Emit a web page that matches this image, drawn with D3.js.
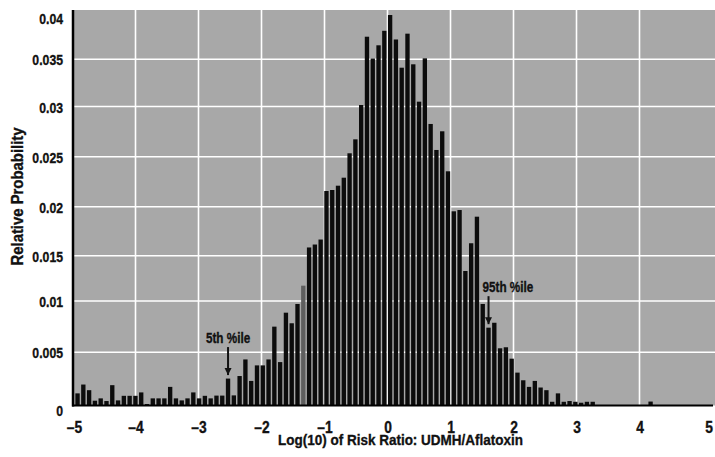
<!DOCTYPE html>
<html><head><meta charset="utf-8">
<script src="https://cdn.jsdelivr.net/npm/d3@7"></script>
<style>
html,body{margin:0;padding:0;background:#fff;}
svg{display:block;}
text{font-family:"Liberation Sans",Arial,"DejaVu Sans",sans-serif;font-weight:bold;fill:#111;stroke:#111;stroke-width:0.35px;}
</style></head><body>
<svg id="chart" width="715" height="457"></svg>
<script>
// Relative probability per bin (log10 of risk ratio UDMH/Aflatoxin)
const relProb = [
  0.00114,0.00197,0.00144,0.00045,0.00067,0.00042,0.00191,0.00048,0.00091,0.00091,
  0.00091,0.00123,0.00014,0.00067,0.00067,0.00067,0.00175,0.00067,0.00048,0.00067,
  0.00123,0.00067,0.00091,0.00067,0.00093,0.00093,0.00253,0.00095,0.00277,0.00433,
  0.00231,0.00377,0.00377,0.00433,0.0075,0.00408,0.00886,0.00783,0.00971,0.01169,
  0.01584,0.01614,0.01665,0.02157,0.02167,0.0221,0.0229,0.02534,0.02673,0.03016,
  0.03729,0.03508,0.03642,0.03789,0.03949,0.03701,0.03411,0.0376,0.03447,0.03051,
  0.0351,0.02826,0.02567,0.02753,0.02354,0.01953,0.01966,0.01331,0.01627,0.01898,
  0.00971,0.0074,0.00788,0.00539,0.00549,0.0044,0.00309,0.00237,0.00175,0.00231,
  0.00169,0.00144,0.00035,0.00114,0.00035,0.00042,0.00035,0.00026,0.00035,0.00035,
  0,0,0,0,0,0,0,0,0,0.00037
];
const binStart = -4.92;      // centre of first bin
const binStep = 0.09188;     // bin width
const highlightBin = 39;     // lighter bar
const xTicks = [-5,-4,-3,-2,-1,0,1,2,3,4,5];
const yTicks = [0,0.005,0.01,0.015,0.02,0.025,0.03,0.035,0.04];
const yTickLabels = ["0","0.005","0.01","0.015","0.02","0.025","0.03","0.035","0.04"];
const xGrid = [-4,-3,-2,-1,0,1,2,3,4];
const yGrid = [0.005,0.01,0.015,0.02,0.025,0.03,0.035];
const annotations = [
  {label:"5th %ile", bin:26, anchor:"middle", dx:0},
  {label:"95th %ile", bin:71, anchor:"start", dx:-6}
];
const xTitle = "Log(10) of Risk Ratio: UDMH/Aflatoxin";
const yTitle = "Relative Probability";

(function(){
const svg = d3.select("#chart");
const pL = 73, pR = 715, pT = 10;
const x = d3.scaleLinear().domain([-5,5]).range([72.5,702.5]);
const y = d3.scaleLinear().domain(yTicks).range([405.5,352.3,301,255.7,206.7,156.7,106.5,59.3,10]);
const pB = y(0);

function condense(sel, f){
  sel.each(function(){
    const w = this.getComputedTextLength();
    d3.select(this).attr("textLength", w*f).attr("lengthAdjust","spacingAndGlyphs");
  });
}

svg.append("rect").attr("x",pL).attr("y",pT).attr("width",pR-pL).attr("height",pB-pT).attr("fill","#a8a8a8");

// grid
svg.append("g").selectAll("line").data(xGrid).join("line")
  .attr("x1",d=>x(d)).attr("x2",d=>x(d)).attr("y1",pT).attr("y2",pB)
  .attr("stroke","#fff").attr("stroke-width",1.6);
svg.append("g").selectAll("line").data(yGrid).join("line")
  .attr("x1",pL).attr("x2",pR).attr("y1",d=>y(d)).attr("y2",d=>y(d))
  .attr("stroke","#fff").attr("stroke-width",1.6);

// bars
const bw = (x(binStep)-x(0))*0.75;
svg.append("g").selectAll("rect").data(relProb).join("rect")
  .attr("x",(d,i)=>x(binStart+i*binStep)-bw/2)
  .attr("width",bw)
  .attr("y",d=>y(d))
  .attr("height",d=>pB-y(d))
  .attr("fill",(d,i)=>i===highlightBin?"#5e5e5e":"#0c0c0c");

// axis lines
svg.append("line").attr("x1",pL).attr("x2",pL).attr("y1",pT).attr("y2",pB+1)
  .attr("stroke","#000").attr("stroke-width",2.5);
svg.append("line").attr("x1",pL-1).attr("x2",713).attr("y1",pB).attr("y2",pB)
  .attr("stroke","#000").attr("stroke-width",2.2);

// y axis labels
const yAxis = d3.axisLeft(y).tickValues(yTicks).tickSize(0).tickPadding(10)
  .tickFormat((d,i)=>yTickLabels[i]);
const gy = svg.append("g").attr("transform",`translate(${pL},0)`).call(yAxis);
gy.select(".domain").remove();
gy.attr("font-family",null).attr("font-size",null);
const yt = gy.selectAll("text").attr("font-size",15.5)
  .attr("dy",null)
  .attr("y",(d)=> d===0.04 ? 13.3 : d===0 ? 10.3 : 5.5);
condense(yt, 0.79);

// x axis labels
const xAxis = d3.axisBottom(x).tickValues(xTicks).tickSize(0)
  .tickFormat(d=> d<0 ? "\u2013"+Math.abs(d) : String(d));
const gx = svg.append("g").attr("transform",`translate(0,${pB})`).call(xAxis);
gx.select(".domain").remove();
gx.attr("font-family",null).attr("font-size",null);
const xt = gx.selectAll("text").attr("font-size",16).attr("dy",null).attr("y",27)
  .attr("dx",d=> d===5 ? 6 : d===-5 ? 1.5 : 0);
condense(xt, 0.86);

// titles
svg.append("text").attr("x",400.5).attr("y",445).attr("text-anchor","middle")
  .attr("font-size",15.5).attr("textLength",245).attr("lengthAdjust","spacingAndGlyphs").text(xTitle);
svg.append("text").attr("transform","translate(22.5,196.5) rotate(-90)").attr("text-anchor","middle")
  .attr("font-size",16).attr("textLength",138).attr("lengthAdjust","spacingAndGlyphs").text(yTitle);

// annotations
const defs = svg.append("defs");
defs.append("marker").attr("id","ah").attr("viewBox","0 0 10 10").attr("refX",10).attr("refY",5)
  .attr("markerWidth",7).attr("markerHeight",8).attr("markerUnits","userSpaceOnUse").attr("orient","auto")
  .append("path").attr("d","M0,0L10,5L0,10Z").attr("fill","#111");
annotations.forEach(a=>{
  const cx = x(binStart+a.bin*binStep);
  const tip = y(relProb[a.bin]) - 3.5;
  svg.append("line").attr("x1",cx).attr("x2",cx).attr("y1",tip-28).attr("y2",tip)
    .attr("stroke","#111").attr("stroke-width",2).attr("marker-end","url(#ah)");
  const t = svg.append("text").attr("x",cx+a.dx).attr("y",tip-32).attr("text-anchor",a.anchor)
    .attr("font-size",15).text(a.label);
  condense(t, 0.78);
});
})();
</script>
</body></html>
